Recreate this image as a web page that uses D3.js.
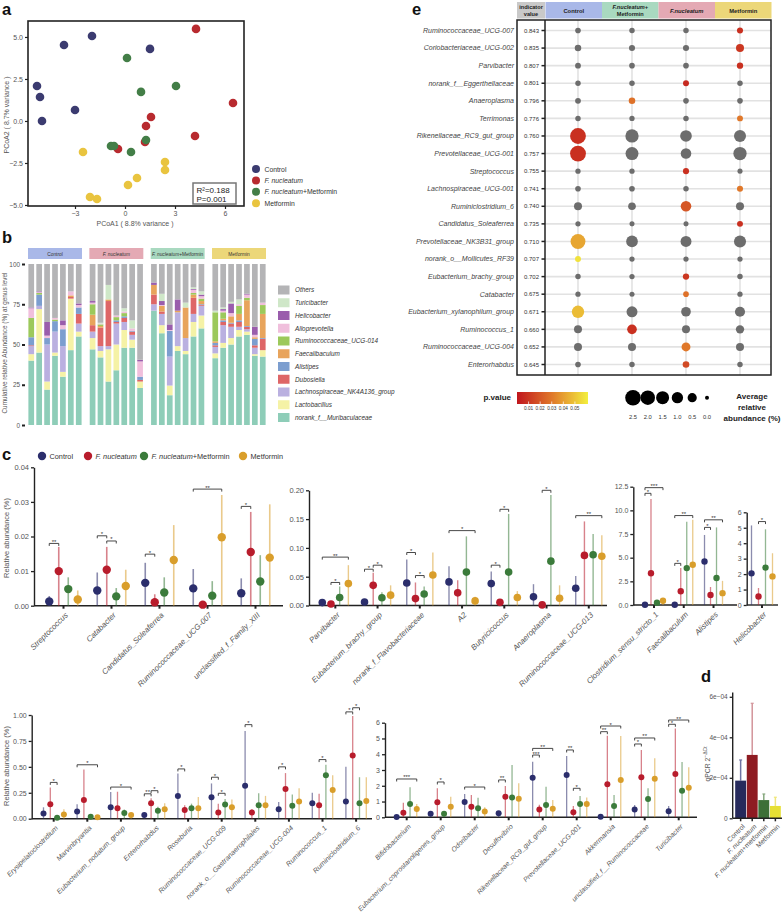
<!DOCTYPE html>
<html><head><meta charset="utf-8">
<script src="https://cdn.jsdelivr.net/npm/d3@7/dist/d3.min.js"></script>
<style>
html,body{margin:0;padding:0;background:#fff;}
svg{display:block;}
</style></head><body>
<svg id="fig" width="782" height="917"></svg>
<script>
// ======================= DATA =======================
const groupNames = ["Control", "F. nucleatum", "F. nucleatum+Metformin", "Metformin"];

// ---- panel a : PCoA
const pcoaX = [
  [-3.66, -1.98, 1.50, -5.28, -5.10, -3.00, -4.98],
  [4.26, 6.48, 1.56, 1.26, 4.20, 1.20, -0.42],
  [0.12, 3.06, 0.96, 1.26, -0.84, -0.66, 0.36],
  [-2.52, 2.40, 2.40, 0.72, 0.18, -2.10, -1.68]
];
const pcoaY = [
  [4.52, 5.06, 4.29, 2.08, 1.43, 0.65, 0.00],
  [5.48, 1.07, 0.24, -0.30, -0.89, -1.25, -1.67],
  [3.75, 2.08, 1.73, -1.13, -1.49, -1.49, -1.85],
  [-1.85, -2.44, -2.92, -3.39, -3.81, -4.52, -4.64]
];
const pcoaXTicks = [-3, 0, 3, 6];
const pcoaYTicks = [-5, -2.5, 0, 2.5, 5];
const pcoaStats = ["R\u00B2=0.188", "P=0.001"];

// ---- panel b : genus composition (7 samples per group)
const bGenera = ["Others", "Turicibacter", "Helicobacter", "Alloprevotella", "Ruminococcaceae_UCG-014",
  "Faecalibaculum", "Alistipes", "Dubosiella", "Lachnospiraceae_NK4A136_group", "Lactobacillus", "norank_f__Muribaculaceae"];
const bMuribaculaceae = [40,45,22,43,30,46.5,55, 47,42,27,34,48,48,23, 71,57,18.5,46,44,55,60, 41.5,48,50,55,56,43,42.5];
const bLactobacillus  = [4,27,5,2,3,32,3, 7,4,20,16,11,5,4, 0,5,6,3,2,9,8, 3,3,4,4,2,1,4];
const bLachnospiraceae= [5,2,23,13,16,0,5, 4,3,2,13,5,3,0, 4,7,18,21,8,5,6, 4,11,7,2,1.5,4,0];
const bDubosiella     = [0.5,0,0,0,0,1,6, 4,11.5,28,1,2.5,2,1, 6,1.5,0,0,0,10,0.5, 1,2,2,3,1.5,1.5,7];
const bAlistipes      = [5,7,4,6.5,10.5,0,4, 0,0,0,1,1,0.5,2, 0,0,16,0,0,0,0.5, 1.5,1,0.5,1,0.5,4,0.5];
const bFaecalibaculum = [0,0,0,0,0,1,0, 6.5,1,1,0,0,0,0, 6,3.5,0,1,19,2,2, 1,1,4,4,16,1,15];
const bRumUCG014      = [12,1,0,1,0,0,0, 6.5,1,0,2,2,0,0, 0,0,0,0,0,1,1.5, 18,4,0,5,1.5,0,5.5];
const bAlloprevotella = [6,0.5,1.5,1,2.5,2.5,1.5, 1,0.5,0,1,1,1.5,9.5, 0,0.5,0.5,0,0,2,1.5, 0,1,2,1,2,1.5,1.5];
const bHelicobacter   = [0.5,0.5,8.5,0,3,0,1, 1,0,0,0,0,0,1, 1.5,2.5,3.5,7,0,0.5,1, 0,1,6,0,0.5,5,0];
const bTuricibacter   = [0,0,0,0,0,0,0, 0,0.5,9,0,2,5,0, 0,4.5,0,0,3,1,2, 1,1,1,3,0,0,0];
const bOthers         = [27,17,36,33.5,35,17,24.5, 23,36.5,13,32,27.5,35,59.5, 11.5,18.5,37.5,22,24,14.5,17, 29,27,23.5,22,18.5,39,24];
const bTicks = [0, 25, 50, 75, 100];

// ---- panel c : relative abundance (%), means and upper whisker per group [Control, Fn, Fn+Met, Met]
const c1Cats = ["Streptococcus","Catabacter","Candidatus_Soleaferrea","Ruminococcaceae_UCG-007","unclassified_f_Family_XIII"];
const c1Mean = [[0.0012,0.0044,0.0066,0.0050,0.0036],[0.0100,0.0104,0.0010,0.0003,0.0155],[0.0048,0.0027,0.0038,0.0029,0.0070],[0.0018,0.0057,0.0132,0.0198,0.0139]];
const c1High = [[0.0028,0.0096,0.0124,0.0106,0.0079],[0.0170,0.0170,0.0033,0.0006,0.0271],[0.0082,0.0051,0.0082,0.0071,0.0146],[0.0044,0.0104,0.0233,0.0320,0.0293]];
const c1Sig  = [[0,0,1,0.0180,"**"],[1,0,1,0.0202,"*"],[1,1,2,0.0187,"*"],[2,0,1,0.0149,"*"],[3,0,3,0.0337,"**"],[4,0,1,0.0287,"*"]];

const c2Cats = ["Parvibacter","Eubacterium_brachy_group","norank_f_Flavobacteriaceae","A2","Butyricicoccus","Anaeroplasma","Ruminococcaceae_UCG-013"];
const c2Mean = [[0.005,0.006,0.039,0.041,0.038,0.015,0.030],[0.0026,0.035,0.012,0.022,0.0055,0.001,0.087],[0.014,0.0135,0.020,0.058,0.058,0.077,0.088],[0.038,0.018,0.053,0.008,0.014,0.0125,0.0855]];
const c2High = [[0.008,0.010,0.080,0.068,0.059,0.037,0.051],[0.005,0.057,0.040,0.044,0.010,0.003,0.146],[0.033,0.023,0.033,0.120,0.159,0.192,0.124],[0.070,0.035,0.092,0.015,0.025,0.035,0.122]];
const c2Sig  = [[0,0,3,0.084,"**"],[0,1,2,0.040,"*"],[1,0,1,0.063,"*"],[1,1,2,0.070,"*"],[2,0,1,0.092,"*"],[2,1,2,0.052,"*"],[3,0,3,0.130,"*"],[4,0,1,0.070,"*"],[4,1,2,0.167,"*"],[5,1,2,0.200,"*"],[6,0,3,0.156,"**"]];

const c3Cats = ["Clostridium_sensu_stricto_1","Faecalibaculum","Alistipes"];
const c3Mean = [[0.03,0.03,4.6],[3.35,1.45,1.05],[0.25,3.9,2.85],[0.45,4.25,1.25]];
const c3High = [[0.06,0.10,7.4],[11.2,3.9,1.9],[0.40,8.8,8.2],[0.65,9.0,2.55]];
const c3Sig  = [[0,0,1,11.8,"*"],[0,0,3,12.4,"***"],[1,0,1,4.4,"*"],[1,0,3,9.45,"**"],[2,0,1,8.2,"*"],[2,0,3,9.0,"**"]];

const c4Cats = ["Helicobacter"];
const c4Mean = [[2.05],[0.55],[2.42],[1.85]];
const c4High = [[5.15],[1.1],[4.9],[3.35]];
const c4Sig  = [[0,1,2,5.4,"*"]];

const c5Cats = ["Erysipelatoclostridium","Marvinbryantia","Eubacterium_nodatum_group","Enterorhabdus","Roseburia","Ruminococcaceae_UCG-009","norank_o__Gastranaerophilales","Ruminococcaceae_UCG-004","Ruminococcus_1","Ruminiclostridium_6"];
const c5Mean = [[0.05,0.07,0.11,0.035,0.22,0.206,0.317,0.09,0.148,0.166],[0.14,0.18,0.10,0.148,0.083,0.06,0.06,0.286,0.13,0.61],[0.01,0.02,0.055,0.077,0.10,0.138,0.13,0.125,0.42,0.15],[0.04,0.015,0.035,0.09,0.10,0.11,0.13,0.166,0.276,0.17]];
const c5High = [[0.11,0.14,0.257,0.05,0.436,0.34,0.846,0.16,0.25,0.50],[0.30,0.475,0.26,0.196,0.13,0.145,0.09,0.44,0.24,0.99],[0.02,0.04,0.088,0.115,0.145,0.19,0.245,0.234,0.52,0.40],[0.09,0.02,0.05,0.148,0.21,0.185,0.22,0.294,0.42,0.40]];
const c5Sig  = [[0,1,2,0.35,"*"],[1,0,3,0.52,"*"],[2,0,3,0.305,"*"],[3,0,1,0.24,"**"],[3,1,2,0.27,"*"],[4,0,1,0.48,"*"],[5,0,1,0.40,"*"],[5,1,2,0.245,"*"],[6,0,1,0.907,"*"],[7,0,1,0.50,"*"],[8,1,2,0.57,"*"],[9,0,1,1.03,"*"],[9,1,2,1.07,"*"]];

const c6Cats = ["Bifidobacterium","Eubacterium_coprostanoligenes_group","Odoribacter","Desulfovibrio","Rikenellaceae_RC9_gut_group","Prevotellaceae_UCG-001","Akkermansia","unclassified_f__Ruminococcaceae","Turicibacter"];
const c6Mean = [[0.02,0.23,0.97,0.25,2.51,2.68,0.04,0.5,0.39],[0.29,0.95,0.67,1.3,0.5,0.32,2.09,2.54,2.75],[0.84,0.22,0.57,1.26,0.78,0.84,0.72,1.16,1.69],[0.53,0.67,0.36,1.17,0.55,0.84,2.37,2.45,1.88]];
const c6High = [[0.05,0.4,1.48,0.35,3.53,3.89,0.08,0.78,0.72],[0.93,1.84,1.41,1.99,0.8,0.72,5.17,4.27,5.64],[1.9,0.3,1.24,3.32,1.94,1.35,1.41,1.84,3.51],[0.84,1.31,0.63,2.16,1.1,1.26,5.15,3.74,3.17]];
const c6Sig  = [[0,0,3,2.43,"***"],[1,1,2,2.24,"*"],[2,0,3,1.92,"*"],[3,0,1,2.37,"**"],[4,0,1,3.95,"***"],[4,0,3,4.37,"**"],[5,0,1,4.27,"**"],[5,1,2,1.84,"*"],[6,0,1,5.43,"**"],[6,0,3,5.79,"*"],[7,0,1,4.65,"*"],[7,0,3,5.03,"**"],[8,0,1,5.9,"*"],[8,0,3,6.17,"**"]];

// ---- panel d : qPCR
const dGroups = ["Control", "F. nucleatum", "F. nucleatum+metformin", "Metformin"];
const dMean = [1.86e-4, 3.13e-4, 0.90e-4, 0.61e-4];
const dUpper = [2.88e-4, 5.68e-4, 1.20e-4, 1.04e-4];
const dTicks = [0, 2e-4, 4e-4, 6e-4];

// ---- panel e : indicator species
const eColumns = ["Control", "F.nucleatum+Metformin", "F.nucleatum", "Metformin"];
const eSpecies = ["Ruminococcaceae_UCG-007","Coriobacteriaceae_UCG-002","Parvibacter","norank_f__Eggerthellaceae","Anaeroplasma","Terrimonas","Rikenellaceae_RC9_gut_group","Prevotellaceae_UCG-001","Streptococcus","Lachnospiraceae_UCG-001","Ruminiclostridium_6","Candidatus_Soleaferrea","Prevotellaceae_NK3B31_group","norank_o__Mollicutes_RF39","Eubacterium_brachy_group","Catabacter","Eubacterium_xylanophilum_group","Ruminococcus_1","Ruminococcaceae_UCG-004","Enterorhabdus"];
const eIndicator = ["0.843","0.835","0.807","0.801","0.796","0.776","0.760","0.757","0.755","0.741","0.740","0.735","0.710","0.707","0.702","0.675","0.671","0.660","0.652","0.645"];
const eAbundance = [[0.05,0.04,0.04,0.08],[0.12,0.08,0.08,0.3],[0.06,0.05,0.05,0.1],[0.04,0.04,0.07,0.04],[0.06,0.12,0.05,0.05],[0.04,0.03,0.04,0.07],[2.6,1.6,1.1,1.2],[2.6,1.5,0.8,1.6],[0.03,0.03,0.08,0.02],[0.05,0.05,0.04,0.08],[0.3,0.25,0.8,0.3],[0.03,0.02,0.02,0.07],[2.2,1.1,0.9,1.2],[0.07,0.03,0.03,0.03],[0.04,0.03,0.1,0.04],[0.03,0.02,0.05,0.03],[1.3,0.9,0.6,0.7],[0.3,0.6,0.3,0.35],[0.3,0.3,0.45,0.3],[0.05,0.04,0.13,0.04]];
const ePValue = [[null,null,null,0.008],[null,null,null,0.01],[null,null,null,0.008],[null,null,0.006,null],[null,0.028,null,null],[null,null,null,0.03],[0.008,null,null,null],[0.008,null,null,null],[null,null,0.008,null],[null,null,null,0.03],[null,null,0.02,null],[null,null,null,0.008],[0.042,null,null,null],[0.058,null,null,null],[null,null,0.01,null],[null,null,0.028,null],[0.048,null,null,null],[null,0.008,null,null],[null,null,0.03,null],[null,null,0.016,null]];
const ePTicks = [0.01, 0.02, 0.03, 0.04, 0.05];
const eSizeTicks = [2.5, 2.0, 1.5, 1.0, 0.5, 0.0];

// ======================= DRAWING =======================
const svg = d3.select("#fig").style("font-family", "'Liberation Sans', Arial, Helvetica, sans-serif");
const INK = "#222";
const TXT = "#555";

function richText(sel, label) {
  const m = label.match(/^(F\. ?nucleatum\+?)(.*)$/);
  if (m && label.startsWith("F.nucleatum+")) {
    sel.append("tspan").attr("font-style", "italic").text(m[1]);
    if (m[2]) sel.append("tspan").text(m[2]);
    return;
  }
  const n = label.match(/^(F\. ?nucleatum)(.*)$/);
  if (n) {
    sel.append("tspan").attr("font-style", "italic").text(n[1]);
    if (n[2]) sel.append("tspan").text(n[2]);
  } else sel.text(label);
}

// panel letters
[["a",2,15],["b",2,243],["c",2,460],["d",701,682],["e",412,15]].forEach(([t,x,y]) =>
  svg.append("text").attr("x", x).attr("y", y).attr("font-size", 16.5).attr("font-weight", "bold").attr("fill", "#111").text(t));

// ---------------- panel a ----------------
(function () {
  const aColors = ["#3b3b70", "#b82a2f", "#437e47", "#e9c43f"];
  const x = d3.scaleLinear().domain([-5.82, 7.14]).range([28, 244]);
  const y = d3.scaleLinear().domain([-5.06, 5.95]).range([206, 21]);
  const g = svg.append("g");
  const xa = g.append("g").attr("transform", "translate(0,206)")
    .call(d3.axisBottom(x).tickValues(pcoaXTicks).tickFormat(d3.format("d")).tickSize(3).tickPadding(2));
  const ya = g.append("g").attr("transform", "translate(28,0)")
    .call(d3.axisLeft(y).tickValues(pcoaYTicks).tickFormat(d3.format(".1f")).tickSize(3).tickPadding(2));
  [xa, ya].forEach(s => {
    s.select(".domain").remove();
    s.selectAll("line").attr("stroke", INK).attr("stroke-width", 1.2);
    s.selectAll("text").attr("fill", TXT).attr("font-size", 7).attr("font-family", null);
  });
  pcoaX.forEach((xs, gi) => xs.forEach((v, i) => {
    g.append("circle").attr("cx", x(v)).attr("cy", y(pcoaY[gi][i])).attr("r", 4.3).attr("fill", aColors[gi]);
  }));
  g.append("rect").attr("x", 28).attr("y", 21).attr("width", 216).attr("height", 185)
    .attr("fill", "none").attr("stroke", INK).attr("stroke-width", 1.6);
  g.append("rect").attr("x", 193).attr("y", 183).attr("width", 43).attr("height", 21)
    .attr("fill", "#fff").attr("stroke", "#777").attr("stroke-width", 1.5);
  pcoaStats.forEach((t, i) => g.append("text").attr("x", 196.5).attr("y", 192.5 + i * 9.5).attr("font-size", 8).attr("fill", "#222").text(t));
  g.append("text").attr("x", 135).attr("y", 226).attr("text-anchor", "middle").attr("font-size", 7).attr("fill", TXT).text("PCoA1 ( 8.8% variance )");
  g.append("text").attr("transform", "translate(9,115) rotate(-90)").attr("text-anchor", "middle").attr("font-size", 7).attr("fill", TXT).text("PCoA2 ( 8.7% variance )");
  groupNames.forEach((nm, i) => {
    const yy = 169 + i * 11.4;
    g.append("circle").attr("cx", 256).attr("cy", yy).attr("r", 4).attr("fill", aColors[i]);
    richText(g.append("text").attr("x", 264.5).attr("y", yy + 2.5).attr("font-size", 6.8).attr("fill", "#333"), nm);
  });
})();

// ---------------- panel b ----------------
(function () {
  const bColors = {"Others":"#b4b4b6","Turicibacter":"#cfe7c8","Helicobacter":"#9a5dac","Alloprevotella":"#f0bfdc",
    "Ruminococcaceae_UCG-014":"#9cc95b","Faecalibaculum":"#e8a45c","Alistipes":"#7c9ecf","Dubosiella":"#de6667",
    "Lachnospiraceae_NK4A136_group":"#bab0e0","Lactobacillus":"#f5f2a6","norank_f__Muribaculaceae":"#8ecdb8"};
  const headerColors = ["#a9b8e8", "#e4a9b4", "#a9d9c0", "#ecd779"];
  const series = {"Others":bOthers,"Turicibacter":bTuricibacter,"Helicobacter":bHelicobacter,"Alloprevotella":bAlloprevotella,
    "Ruminococcaceae_UCG-014":bRumUCG014,"Faecalibaculum":bFaecalibaculum,"Alistipes":bAlistipes,"Dubosiella":bDubosiella,
    "Lachnospiraceae_NK4A136_group":bLachnospiraceae,"Lactobacillus":bLactobacillus,"norank_f__Muribaculaceae":bMuribaculaceae};
  const rows = bMuribaculaceae.map((_, i) => {
    const r = {group: groupNames[Math.floor(i / 7)], idx: i % 7};
    bGenera.forEach(k => r[k] = series[k][i]);
    return r;
  });
  const keys = bGenera.slice().reverse();
  const stacked = d3.stack().keys(keys)(rows);
  const y = d3.scaleLinear().domain([0, 100]).range([425, 264]);
  const gx = d3.scaleBand().domain(groupNames).range([28, 266]).paddingInner(0.12);
  const bx = d3.scaleBand().domain(d3.range(7)).range([0, gx.bandwidth()]).paddingInner(0.28).paddingOuter(0.05);
  const g = svg.append("g");
  groupNames.forEach((nm, i) => {
    g.append("rect").attr("x", gx(nm)).attr("y", 248).attr("width", gx.bandwidth()).attr("height", 11).attr("fill", headerColors[i]);
    richText(g.append("text").attr("x", gx(nm) + gx.bandwidth() / 2).attr("y", 255.5).attr("text-anchor", "middle")
      .attr("font-size", 4.8).attr("fill", "#333"), nm);
  });
  stacked.forEach(layer => {
    g.append("g").selectAll("rect").data(layer).join("rect")
      .attr("x", d => gx(d.data.group) + bx(d.data.idx))
      .attr("width", bx.bandwidth())
      .attr("y", d => y(d[1]))
      .attr("height", d => Math.max(0, y(d[0]) - y(d[1])))
      .attr("fill", bColors[layer.key]);
  });
  const ya = g.append("g").attr("transform", "translate(25,0)")
    .call(d3.axisLeft(y).tickValues(bTicks).tickFormat(d3.format("d")).tickSize(3).tickPadding(2));
  ya.select(".domain").remove();
  ya.selectAll("line").attr("stroke", INK).attr("stroke-width", 2);
  ya.selectAll("text").attr("fill", TXT).attr("font-size", 6.4).attr("font-family", null);
  g.append("text").attr("transform", "translate(7,343) rotate(-90)").attr("text-anchor", "middle")
    .attr("font-size", 6.4).attr("fill", TXT).text("Cumulative relative Abundance (%) at genus level");
  bGenera.forEach((k, i) => {
    const yy = 290 + i * 12.75;
    g.append("rect").attr("x", 278).attr("y", yy - 4.5).attr("width", 11.5).attr("height", 9).attr("fill", bColors[k]);
    g.append("text").attr("x", 295).attr("y", yy + 2.3).attr("font-size", 6.4).attr("font-style", "italic").attr("fill", "#333").text(k);
  });
})();

// ---------------- panel c ----------------
const cColors = ["#2b2e6c", "#b81c2c", "#3b7b3b", "#d99e2b"];
function dotPanel(o) {
  const g = svg.append("g");
  const y = d3.scaleLinear().domain([0, o.yMax]).range([o.y0, o.yTop]);
  const xb = d3.scaleBand().domain(o.cats).range([o.bx0, o.bx1]);
  const xo = d3.scalePoint().domain([0, 1, 2, 3]).range([-1.5 * o.sp, 1.5 * o.sp]);
  const cx = (ci, gi) => xb(o.cats[ci]) + xb.bandwidth() / 2 + xo(gi);
  const ya = g.append("g").attr("transform", `translate(${o.ax},0)`)
    .call(d3.axisLeft(y).tickValues(o.ticks).tickFormat(d3.format(o.fmt)).tickSize(3).tickSizeOuter(0).tickPadding(2));
  ya.select(".domain").attr("stroke", INK).attr("stroke-width", 1.4);
  ya.selectAll(".tick line").attr("stroke", INK).attr("stroke-width", 1.3);
  ya.selectAll("text").attr("fill", TXT).attr("font-size", o.tfs).attr("font-family", null);
  g.append("line").attr("x1", o.ax).attr("x2", o.axEnd).attr("y1", o.y0).attr("y2", o.y0).attr("stroke", INK).attr("stroke-width", 1.4);
  const xa = g.append("g").attr("transform", `translate(0,${o.y0})`).call(d3.axisBottom(xb).tickSize(3).tickSizeOuter(0));
  xa.select(".domain").remove();
  xa.selectAll(".tick line").attr("stroke", INK).attr("stroke-width", 2);
  xa.selectAll("text").attr("fill", TXT).attr("font-size", o.cfs).attr("font-style", "italic").attr("font-family", null)
    .attr("x", 0).attr("y", 0).attr("dy", "0.35em").style("text-anchor", "end")
    .attr("transform", "translate(3,8) rotate(-45)");
  o.mean.forEach((vals, gi) => vals.forEach((v, ci) => {
    g.append("line").attr("x1", cx(ci, gi)).attr("x2", cx(ci, gi)).attr("y1", y(0)).attr("y2", y(o.high[gi][ci]))
      .attr("stroke", cColors[gi]).attr("stroke-opacity", 0.55).attr("stroke-width", o.lw);
  }));
  o.mean.forEach((vals, gi) => vals.forEach((v, ci) => {
    g.append("circle").attr("cx", cx(ci, gi)).attr("cy", y(v)).attr("r", o.r).attr("fill", cColors[gi]);
  }));
  o.sig.forEach(([ci, g1, g2, v, lab]) => {
    const x1 = cx(ci, g1), x2 = cx(ci, g2), yy = y(v);
    g.append("path").attr("d", `M${x1},${yy + 2.5}V${yy}H${x2}V${yy + 2.5}`).attr("fill", "none").attr("stroke", "#333").attr("stroke-width", 0.9);
    g.append("text").attr("x", (x1 + x2) / 2).attr("y", yy + 0.5).attr("text-anchor", "middle").attr("font-size", 6).attr("fill", "#333").text(lab);
  });
}

dotPanel({cats: c1Cats, mean: c1Mean, high: c1High, sig: c1Sig, yMax: 0.04, y0: 605.7, yTop: 467.3, ticks: [0, 0.01, 0.02, 0.03, 0.04], fmt: ".2f",
  ax: 34, axEnd: 283, bx0: 39.5, bx1: 279.5, sp: 9.5, r: 4.2, lw: 1.6, tfs: 7.5, cfs: 7.8});
dotPanel({cats: c2Cats, mean: c2Mean, high: c2High, sig: c2Sig, yMax: 0.20, y0: 605.5, yTop: 490.3, ticks: [0, 0.05, 0.10, 0.15, 0.20], fmt: ".2f",
  ax: 309, axEnd: 607, bx0: 314.2, bx1: 609.9, sp: 8.7, r: 3.8, lw: 1.4, tfs: 7.5, cfs: 7.8});
dotPanel({cats: c3Cats, mean: c3Mean, high: c3High, sig: c3Sig, yMax: 12.5, y0: 605, yTop: 486.7, ticks: [0, 2.5, 5, 7.5, 10, 12.5], fmt: ".1f",
  ax: 633.3, axEnd: 737, bx0: 639.1, bx1: 728.4, sp: 6, r: 3.2, lw: 1.3, tfs: 7, cfs: 7.8});
dotPanel({cats: c4Cats, mean: c4Mean, high: c4High, sig: c4Sig, yMax: 6, y0: 605, yTop: 512.3, ticks: [0, 1, 2, 3, 4, 5, 6], fmt: "d",
  ax: 746.7, axEnd: 778, bx0: 747, bx1: 777, sp: 7, r: 3.2, lw: 1.3, tfs: 7, cfs: 7.8});
dotPanel({cats: c5Cats, mean: c5Mean, high: c5High, sig: c5Sig, yMax: 1, y0: 818.7, yTop: 715, ticks: [0, 0.25, 0.5, 0.75, 1], fmt: ".2f",
  ax: 31.7, axEnd: 372, bx0: 36.9, bx1: 372.9, sp: 6.8, r: 3.0, lw: 1.3, tfs: 7, cfs: 7.1});
dotPanel({cats: c6Cats, mean: c6Mean, high: c6High, sig: c6Sig, yMax: 6, y0: 817.3, yTop: 722.7, ticks: [0, 1, 2, 3, 4, 5, 6], fmt: "d",
  ax: 385, axEnd: 697, bx0: 389.7, bx1: 695.7, sp: 6.7, r: 3.0, lw: 1.3, tfs: 7, cfs: 6.9});

svg.append("text").attr("transform", "translate(9,538) rotate(-90)").attr("text-anchor", "middle").attr("font-size", 7.5).attr("fill", TXT).text("Relative abundance (%)");
svg.append("text").attr("transform", "translate(9,766) rotate(-90)").attr("text-anchor", "middle").attr("font-size", 7.5).attr("fill", TXT).text("Relative abundance (%)");
[42, 88, 144, 243].forEach((xx, i) => {
  svg.append("circle").attr("cx", xx).attr("cy", 456).attr("r", 4.2).attr("fill", cColors[i]);
  richText(svg.append("text").attr("x", xx + 7.5).attr("y", 458.8).attr("font-size", 7.3).attr("fill", "#333"), groupNames[i]);
});

// ---------------- panel d ----------------
(function () {
  const dColors = ["#262a5c", "#8e1b22", "#3d6f37", "#e6df34"];
  const dErrColors = ["#6f73a3", "#d3949a", "#86a87e", "#efe67a"];
  const y = d3.scaleLinear().domain([0, 6e-4]).range([818.3, 696.8]);
  const x = d3.scaleBand().domain(dGroups).range([734.5, 781.5]).padding(0.06);
  const g = svg.append("g");
  dGroups.forEach((k, i) => {
    const cxp = x(k) + x.bandwidth() / 2;
    g.append("line").attr("x1", cxp).attr("x2", cxp).attr("y1", y(dMean[i])).attr("y2", y(dUpper[i])).attr("stroke", dErrColors[i]).attr("stroke-width", 1.5);
    g.append("line").attr("x1", cxp - 1.5).attr("x2", cxp + 1.5).attr("y1", y(dUpper[i])).attr("y2", y(dUpper[i])).attr("stroke", dErrColors[i]).attr("stroke-width", 1.2);
    g.append("rect").attr("x", x(k)).attr("width", x.bandwidth()).attr("y", y(dMean[i])).attr("height", y(0) - y(dMean[i])).attr("fill", dColors[i]);
  });
  g.append("line").attr("x1", 732.7).attr("x2", 732.7).attr("y1", 818.3).attr("y2", 692.5).attr("stroke", INK).attr("stroke-width", 1.4);
  g.append("line").attr("x1", 732.7).attr("x2", 782).attr("y1", 818.3).attr("y2", 818.3).attr("stroke", INK).attr("stroke-width", 1.4);
  const ya = g.append("g").attr("transform", "translate(732.7,0)")
    .call(d3.axisLeft(y).tickValues(dTicks).tickFormat(d => d === 0 ? "0" : Math.round(d * 1e4) + "e\u221204").tickSize(3).tickPadding(2));
  ya.select(".domain").remove();
  ya.selectAll(".tick line").attr("stroke", INK).attr("stroke-width", 1.3);
  ya.selectAll("text").attr("fill", TXT).attr("font-size", 6.5).attr("font-family", null);
  const xa = g.append("g").attr("transform", "translate(0,818.3)").call(d3.axisBottom(x).tickSize(3).tickSizeOuter(0));
  xa.select(".domain").remove();
  xa.selectAll(".tick line").attr("stroke", INK).attr("stroke-width", 1.5);
  xa.selectAll("text").each(function (d) { const s = d3.select(this).text(""); richText(s, d); })
    .attr("fill", TXT).attr("font-size", 6.8).attr("font-family", null)
    .attr("x", 0).attr("y", 0).attr("dy", "0.35em").style("text-anchor", "end").attr("transform", "translate(3,7) rotate(-45)");
  const lab = g.append("text").attr("transform", "translate(710,764) rotate(-90)").attr("text-anchor", "middle").attr("font-size", 6.8).attr("fill", TXT);
  lab.append("tspan").text("qPCR 2");
  lab.append("tspan").attr("font-size", 5).attr("dy", -3).text("\u2212\u0394Ct");
})();

// ---------------- panel e ----------------
(function () {
  const headColors = ["#a9b8e8", "#a9d9c0", "#e4a9b4", "#ecd779"];
  const x = d3.scalePoint().domain(eColumns).range([578, 740]);
  const y = d3.scalePoint().domain(eSpecies).range([30.5, 364.5]);
  const size = d3.scaleSqrt().domain([0, 2.5]).range([2, 7.8]);
  const pcol = d3.scaleLinear().domain([0, 0.03, 0.0613]).range(["#c0161d", "#e0782a", "#f3ef3e"]).clamp(true);
  const g = svg.append("g");
  g.append("rect").attr("x", 517).attr("y", 2).attr("width", 28).attr("height", 16.5).attr("fill", "#c9c9c9");
  ["indicator", "value"].forEach((t, i) => g.append("text").attr("x", 531).attr("y", 8.8 + i * 7).attr("text-anchor", "middle")
    .attr("font-size", 5.6).attr("font-weight", "bold").attr("fill", "#222").text(t));
  eColumns.forEach((c, i) => {
    const x0 = 545.5 + i * 56.5;
    g.append("rect").attr("x", x0).attr("y", 2).attr("width", 56.5).attr("height", 16.5).attr("fill", headColors[i]);
    if (c === "F.nucleatum+Metformin") {
      g.append("text").attr("x", x0 + 28.25).attr("y", 8.8).attr("text-anchor", "middle").attr("font-size", 5.6).attr("font-weight", "bold")
        .attr("font-style", "italic").attr("fill", "#222").text("F.nucleatum+");
      g.append("text").attr("x", x0 + 28.25).attr("y", 15.8).attr("text-anchor", "middle").attr("font-size", 5.6).attr("font-weight", "bold")
        .attr("fill", "#222").text("Metformin");
    } else {
      richText(g.append("text").attr("x", x0 + 28.25).attr("y", 12.5).attr("text-anchor", "middle").attr("font-size", 5.8)
        .attr("font-weight", "bold").attr("fill", "#222"), c);
    }
  });
  eSpecies.forEach(s => g.append("line").attr("x1", 545).attr("x2", 771).attr("y1", y(s)).attr("y2", y(s)).attr("stroke", "#e2e2e2").attr("stroke-width", 1.6));
  eColumns.forEach(c => g.append("line").attr("x1", x(c)).attr("x2", x(c)).attr("y1", 20).attr("y2", 375).attr("stroke", "#e2e2e2").attr("stroke-width", 1.6));
  eSpecies.forEach((s, i) => {
    g.append("text").attr("x", 514).attr("y", y(s) + 2.4).attr("text-anchor", "end").attr("font-size", 7).attr("font-style", "italic").attr("fill", "#444").text(s);
    g.append("text").attr("x", 539).attr("y", y(s) + 2.2).attr("text-anchor", "end").attr("font-size", 6).attr("fill", "#333").text(eIndicator[i]);
    g.append("line").attr("x1", 541.5).attr("x2", 545).attr("y1", y(s)).attr("y2", y(s)).attr("stroke", INK).attr("stroke-width", 1.5);
  });
  eSpecies.forEach((s, i) => eColumns.forEach((c, j) => {
    const p = ePValue[i][j];
    g.append("circle").attr("cx", x(c)).attr("cy", y(s)).attr("r", size(eAbundance[i][j])).attr("fill", p === null ? "#6d6d6d" : pcol(p));
  }));
  g.append("rect").attr("x", 517).attr("y", 20).attr("width", 254).attr("height", 355).attr("fill", "none").attr("stroke", INK).attr("stroke-width", 1.5);
  g.append("line").attr("x1", 545).attr("x2", 545).attr("y1", 20).attr("y2", 375).attr("stroke", INK).attr("stroke-width", 1.5);
  const defs = svg.append("defs");
  const grad = defs.append("linearGradient").attr("id", "pgrad");
  d3.range(0, 1.0001, 0.1).forEach(t => grad.append("stop").attr("offset", t).attr("stop-color", pcol(t * 0.0613)));
  const pl = d3.scaleLinear().domain([0, 0.0613]).range([517, 588]);
  g.append("text").attr("x", 511).attr("y", 400).attr("text-anchor", "end").attr("font-size", 8).attr("font-weight", "bold").attr("fill", "#222").text("p.value");
  g.append("rect").attr("x", 517).attr("y", 392).attr("width", 71).attr("height", 12).attr("fill", "url(#pgrad)");
  ePTicks.forEach(t => {
    g.append("line").attr("x1", pl(t)).attr("x2", pl(t)).attr("y1", 401.5).attr("y2", 404).attr("stroke", "#fff").attr("stroke-width", 0.7);
    g.append("text").attr("x", pl(t)).attr("y", 409.5).attr("text-anchor", "middle").attr("font-size", 4.7).attr("fill", "#333").text(d3.format(".2f")(t));
  });
  const sx = d3.scalePoint().domain(eSizeTicks).range([633, 707]);
  eSizeTicks.forEach(v => {
    g.append("circle").attr("cx", sx(v)).attr("cy", 397.7).attr("r", size(v)).attr("fill", "#000");
    g.append("text").attr("x", sx(v)).attr("y", 418.5).attr("text-anchor", "middle").attr("font-size", 5.8).attr("fill", "#333").text(d3.format(".1f")(v));
  });
  ["Average", "relative", "abundance (%)"].forEach((t, i) => g.append("text").attr("x", 752).attr("y", 398.5 + i * 11)
    .attr("text-anchor", "middle").attr("font-size", 8).attr("font-weight", "bold").attr("fill", "#222").text(t));
})();
</script>
</body></html>
